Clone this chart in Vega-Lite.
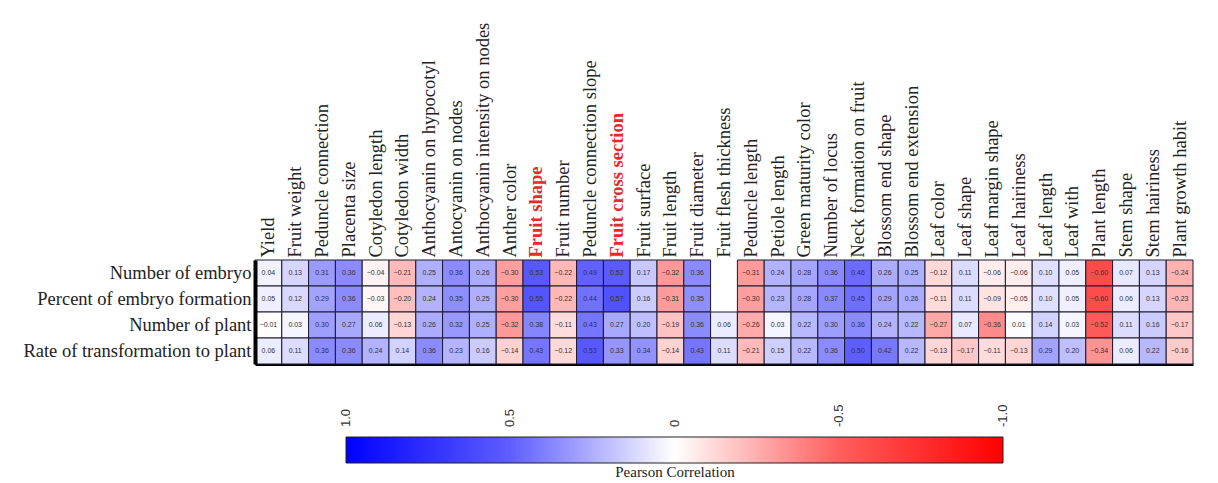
{
"$schema": "https://vega.github.io/schema/vega-lite/v6.json",
"width": 938, "height": 104,
"autosize": {"type": "none"},
"padding": {"left": 255, "top": 260, "right": 25, "bottom": 119},
"background": "white",
"config": {"view": {"stroke": null}, "font": "Liberation Serif"},
"data": {"values": [
{"r":"Number of embryo","c":"Yield","v":0.04},{"r":"Number of embryo","c":"Fruit weight","v":0.13},{"r":"Number of embryo","c":"Peduncle connection","v":0.31},{"r":"Number of embryo","c":"Placenta size","v":0.36},{"r":"Number of embryo","c":"Cotyledon length","v":-0.04},{"r":"Number of embryo","c":"Cotyledon width","v":-0.21},{"r":"Number of embryo","c":"Anthocyanin  on hypocotyl","v":0.25},{"r":"Number of embryo","c":"Antocyanin  on nodes","v":0.36},{"r":"Number of embryo","c":"Anthocyanin  intensity  on nodes","v":0.26},{"r":"Number of embryo","c":"Anther color","v":-0.30},{"r":"Number of embryo","c":"Fruit  shape","v":0.53},{"r":"Number of embryo","c":"Fruit number","v":-0.22},{"r":"Number of embryo","c":"Peduncle connection slope","v":0.49},{"r":"Number of embryo","c":"Fruit  cross section","v":0.52},{"r":"Number of embryo","c":"Fruit surface","v":0.17},{"r":"Number of embryo","c":"Fruit length","v":-0.32},{"r":"Number of embryo","c":"Fruit diameter","v":0.36},{"r":"Number of embryo","c":"Peduncle length","v":-0.31},{"r":"Number of embryo","c":"Petiole length","v":0.24},{"r":"Number of embryo","c":"Green maturity color","v":0.28},{"r":"Number of embryo","c":"Number of locus","v":0.36},{"r":"Number of embryo","c":"Neck formation on fruit","v":0.46},{"r":"Number of embryo","c":"Blossom end shape","v":0.26},{"r":"Number of embryo","c":"Blossom end extension","v":0.25},{"r":"Number of embryo","c":"Leaf color","v":-0.12},{"r":"Number of embryo","c":"Leaf shape","v":0.11},{"r":"Number of embryo","c":"Leaf margin shape","v":-0.06},{"r":"Number of embryo","c":"Leaf hairiness","v":-0.06},{"r":"Number of embryo","c":"Leaf length","v":0.10},{"r":"Number of embryo","c":"Leaf with","v":0.05},{"r":"Number of embryo","c":"Plant length","v":-0.60},{"r":"Number of embryo","c":"Stem shape","v":0.07},{"r":"Number of embryo","c":"Stem hairiness","v":0.13},{"r":"Number of embryo","c":"Plant growth habit","v":-0.24},
{"r":"Percent of embryo formation","c":"Yield","v":0.05},{"r":"Percent of embryo formation","c":"Fruit weight","v":0.12},{"r":"Percent of embryo formation","c":"Peduncle connection","v":0.29},{"r":"Percent of embryo formation","c":"Placenta size","v":0.36},{"r":"Percent of embryo formation","c":"Cotyledon length","v":-0.03},{"r":"Percent of embryo formation","c":"Cotyledon width","v":-0.20},{"r":"Percent of embryo formation","c":"Anthocyanin  on hypocotyl","v":0.24},{"r":"Percent of embryo formation","c":"Antocyanin  on nodes","v":0.35},{"r":"Percent of embryo formation","c":"Anthocyanin  intensity  on nodes","v":0.25},{"r":"Percent of embryo formation","c":"Anther color","v":-0.30},{"r":"Percent of embryo formation","c":"Fruit  shape","v":0.55},{"r":"Percent of embryo formation","c":"Fruit number","v":-0.22},{"r":"Percent of embryo formation","c":"Peduncle connection slope","v":0.44},{"r":"Percent of embryo formation","c":"Fruit  cross section","v":0.57},{"r":"Percent of embryo formation","c":"Fruit surface","v":0.16},{"r":"Percent of embryo formation","c":"Fruit length","v":-0.31},{"r":"Percent of embryo formation","c":"Fruit diameter","v":0.35},{"r":"Percent of embryo formation","c":"Peduncle length","v":-0.30},{"r":"Percent of embryo formation","c":"Petiole length","v":0.23},{"r":"Percent of embryo formation","c":"Green maturity color","v":0.28},{"r":"Percent of embryo formation","c":"Number of locus","v":0.37},{"r":"Percent of embryo formation","c":"Neck formation on fruit","v":0.45},{"r":"Percent of embryo formation","c":"Blossom end shape","v":0.29},{"r":"Percent of embryo formation","c":"Blossom end extension","v":0.26},{"r":"Percent of embryo formation","c":"Leaf color","v":-0.11},{"r":"Percent of embryo formation","c":"Leaf shape","v":0.11},{"r":"Percent of embryo formation","c":"Leaf margin shape","v":-0.09},{"r":"Percent of embryo formation","c":"Leaf hairiness","v":-0.05},{"r":"Percent of embryo formation","c":"Leaf length","v":0.10},{"r":"Percent of embryo formation","c":"Leaf with","v":0.05},{"r":"Percent of embryo formation","c":"Plant length","v":-0.60},{"r":"Percent of embryo formation","c":"Stem shape","v":0.06},{"r":"Percent of embryo formation","c":"Stem hairiness","v":0.13},{"r":"Percent of embryo formation","c":"Plant growth habit","v":-0.23},
{"r":"Number of plant","c":"Yield","v":-0.01},{"r":"Number of plant","c":"Fruit weight","v":0.03},{"r":"Number of plant","c":"Peduncle connection","v":0.30},{"r":"Number of plant","c":"Placenta size","v":0.27},{"r":"Number of plant","c":"Cotyledon length","v":0.06},{"r":"Number of plant","c":"Cotyledon width","v":-0.13},{"r":"Number of plant","c":"Anthocyanin  on hypocotyl","v":0.26},{"r":"Number of plant","c":"Antocyanin  on nodes","v":0.32},{"r":"Number of plant","c":"Anthocyanin  intensity  on nodes","v":0.25},{"r":"Number of plant","c":"Anther color","v":-0.32},{"r":"Number of plant","c":"Fruit  shape","v":0.38},{"r":"Number of plant","c":"Fruit number","v":-0.11},{"r":"Number of plant","c":"Peduncle connection slope","v":0.43},{"r":"Number of plant","c":"Fruit  cross section","v":0.27},{"r":"Number of plant","c":"Fruit surface","v":0.20},{"r":"Number of plant","c":"Fruit length","v":-0.19},{"r":"Number of plant","c":"Fruit diameter","v":0.36},{"r":"Number of plant","c":"Fruit flesh thickness","v":0.06},{"r":"Number of plant","c":"Peduncle length","v":-0.26},{"r":"Number of plant","c":"Petiole length","v":0.03},{"r":"Number of plant","c":"Green maturity color","v":0.22},{"r":"Number of plant","c":"Number of locus","v":0.30},{"r":"Number of plant","c":"Neck formation on fruit","v":0.36},{"r":"Number of plant","c":"Blossom end shape","v":0.24},{"r":"Number of plant","c":"Blossom end extension","v":0.22},{"r":"Number of plant","c":"Leaf color","v":-0.27},{"r":"Number of plant","c":"Leaf shape","v":0.07},{"r":"Number of plant","c":"Leaf margin shape","v":-0.36},{"r":"Number of plant","c":"Leaf hairiness","v":0.01},{"r":"Number of plant","c":"Leaf length","v":0.14},{"r":"Number of plant","c":"Leaf with","v":0.03},{"r":"Number of plant","c":"Plant length","v":-0.52},{"r":"Number of plant","c":"Stem shape","v":0.11},{"r":"Number of plant","c":"Stem hairiness","v":0.16},{"r":"Number of plant","c":"Plant growth habit","v":-0.17},
{"r":"Rate of transformation  to  plant","c":"Yield","v":0.06},{"r":"Rate of transformation  to  plant","c":"Fruit weight","v":0.11},{"r":"Rate of transformation  to  plant","c":"Peduncle connection","v":0.36},{"r":"Rate of transformation  to  plant","c":"Placenta size","v":0.36},{"r":"Rate of transformation  to  plant","c":"Cotyledon length","v":0.24},{"r":"Rate of transformation  to  plant","c":"Cotyledon width","v":0.14},{"r":"Rate of transformation  to  plant","c":"Anthocyanin  on hypocotyl","v":0.36},{"r":"Rate of transformation  to  plant","c":"Antocyanin  on nodes","v":0.23},{"r":"Rate of transformation  to  plant","c":"Anthocyanin  intensity  on nodes","v":0.16},{"r":"Rate of transformation  to  plant","c":"Anther color","v":-0.14},{"r":"Rate of transformation  to  plant","c":"Fruit  shape","v":0.43},{"r":"Rate of transformation  to  plant","c":"Fruit number","v":-0.12},{"r":"Rate of transformation  to  plant","c":"Peduncle connection slope","v":0.53},{"r":"Rate of transformation  to  plant","c":"Fruit  cross section","v":0.33},{"r":"Rate of transformation  to  plant","c":"Fruit surface","v":0.34},{"r":"Rate of transformation  to  plant","c":"Fruit length","v":-0.14},{"r":"Rate of transformation  to  plant","c":"Fruit diameter","v":0.43},{"r":"Rate of transformation  to  plant","c":"Fruit flesh thickness","v":0.11},{"r":"Rate of transformation  to  plant","c":"Peduncle length","v":-0.21},{"r":"Rate of transformation  to  plant","c":"Petiole length","v":0.15},{"r":"Rate of transformation  to  plant","c":"Green maturity color","v":0.22},{"r":"Rate of transformation  to  plant","c":"Number of locus","v":0.36},{"r":"Rate of transformation  to  plant","c":"Neck formation on fruit","v":0.50},{"r":"Rate of transformation  to  plant","c":"Blossom end shape","v":0.42},{"r":"Rate of transformation  to  plant","c":"Blossom end extension","v":0.22},{"r":"Rate of transformation  to  plant","c":"Leaf color","v":-0.13},{"r":"Rate of transformation  to  plant","c":"Leaf shape","v":-0.17},{"r":"Rate of transformation  to  plant","c":"Leaf margin shape","v":-0.11},{"r":"Rate of transformation  to  plant","c":"Leaf hairiness","v":-0.13},{"r":"Rate of transformation  to  plant","c":"Leaf length","v":0.29},{"r":"Rate of transformation  to  plant","c":"Leaf with","v":0.20},{"r":"Rate of transformation  to  plant","c":"Plant length","v":-0.34},{"r":"Rate of transformation  to  plant","c":"Stem shape","v":0.06},{"r":"Rate of transformation  to  plant","c":"Stem hairiness","v":0.22},{"r":"Rate of transformation  to  plant","c":"Plant growth habit","v":-0.16}
]},
"layer": [
{"mark": {"type": "rect", "stroke": "#1a1a2a", "strokeWidth": 1},
 "encoding": {
  "x": {"field": "c", "type": "nominal",
   "sort": ["Yield","Fruit weight","Peduncle connection","Placenta size","Cotyledon length","Cotyledon width","Anthocyanin  on hypocotyl","Antocyanin  on nodes","Anthocyanin  intensity  on nodes","Anther color","Fruit  shape","Fruit number","Peduncle connection slope","Fruit  cross section","Fruit surface","Fruit length","Fruit diameter","Fruit flesh thickness","Peduncle length","Petiole length","Green maturity color","Number of locus","Neck formation on fruit","Blossom end shape","Blossom end extension","Leaf color","Leaf shape","Leaf margin shape","Leaf hairiness","Leaf length","Leaf with","Plant length","Stem shape","Stem hairiness","Plant growth habit"],
   "scale": {"paddingInner": 0, "paddingOuter": 0},
   "axis": {"orient": "top", "title": null, "ticks": false, "domain": false, "labelAngle": -90, "labelAlign": "left", "labelBaseline": "middle", "labelPadding": 3, "labelFont": "Liberation Serif", "labelFontSize": 18.5, "labelLimit": 400,
    "labelColor": {"condition": {"test": "datum.value==='Fruit  shape'||datum.value==='Fruit  cross section'", "value": "#e8282a"}, "value": "#222222"},
    "labelFontWeight": {"condition": {"test": "datum.value==='Fruit  shape'||datum.value==='Fruit  cross section'", "value": "bold"}, "value": "normal"}}},
  "y": {"field": "r", "type": "nominal", "sort": null, "scale": {"paddingInner": 0, "paddingOuter": 0},
   "axis": {"title": null, "ticks": false, "domain": true, "domainWidth": 4, "domainColor": "#000000", "labelFont": "Liberation Serif", "labelFontSize": 18.5, "labelColor": "#222222", "labelPadding": 4, "labelLimit": 400}},
  "color": {"field": "v", "type": "quantitative",
   "scale": {"domain": [1, 0.5, 0, -0.5, -1], "range": ["#0000ff", "#5e5eff", "#ffffff", "#ff5e5e", "#ff0000"], "interpolate": "rgb"},
   "legend": {"orient": "none", "legendX": 91, "legendY": 177, "direction": "horizontal", "gradientLength": 657, "gradientThickness": 26, "gradientStrokeColor": "#222222", "gradientStrokeWidth": 1,
    "values": [1, 0.5, 0, -0.5, -1], "labelExpr": "datum.value===1?'1.0':datum.value===-1?'-1.0':datum.value===0?'0':''+datum.value",
    "labelAlign": "left", "labelBaseline": "middle", "labelOffset": -36, "labelFont": "Liberation Sans", "labelFontSize": 13, "labelColor": "#333333", "labelOverlap": false,
    "encoding": {"labels": {"angle": {"value": -90}, "align": {"value": "left"}, "baseline": {"value": "middle"}}},
    "title": "Pearson Correlation", "titleOrient": "bottom", "titleAnchor": "middle", "titleFont": "Liberation Serif", "titleFontSize": 15, "titleFontWeight": "normal", "titleColor": "#222222", "titlePadding": 1}}
 }},
{"mark": {"type": "text", "fontSize": 7, "font": "Liberation Sans", "color": "#333333"},
 "encoding": {
  "x": {"field": "c", "type": "nominal",
   "sort": ["Yield","Fruit weight","Peduncle connection","Placenta size","Cotyledon length","Cotyledon width","Anthocyanin  on hypocotyl","Antocyanin  on nodes","Anthocyanin  intensity  on nodes","Anther color","Fruit  shape","Fruit number","Peduncle connection slope","Fruit  cross section","Fruit surface","Fruit length","Fruit diameter","Fruit flesh thickness","Peduncle length","Petiole length","Green maturity color","Number of locus","Neck formation on fruit","Blossom end shape","Blossom end extension","Leaf color","Leaf shape","Leaf margin shape","Leaf hairiness","Leaf length","Leaf with","Plant length","Stem shape","Stem hairiness","Plant growth habit"],
   "axis": {"orient": "bottom", "title": null, "labels": false, "ticks": false, "domain": true, "domainWidth": 3, "domainColor": "#000000"}},
  "y": {"field": "r", "type": "nominal", "sort": null},
  "text": {"field": "v", "type": "quantitative", "format": ".2f"}
 }}
],
"resolve": {"axis": {"x": "independent"}}
}
